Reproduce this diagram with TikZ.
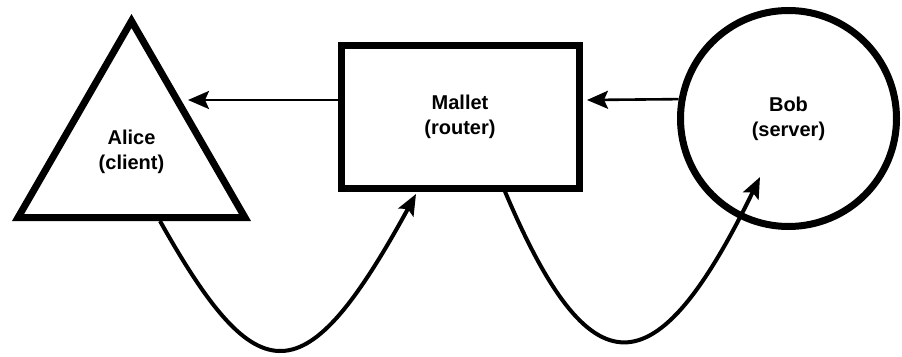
\documentclass[tikz,border=0pt]{standalone}
\usepackage{fontspec}
\setmainfont{Liberation Sans}
\usetikzlibrary{shapes.geometric,arrows.meta}
\begin{document}
\begin{tikzpicture}[x=1pt,y=-1pt,
  party/.style={draw=black, line width=7pt, align=center, inner sep=0pt,
    font=\fontsize{20}{25}\selectfont\bfseries},
  flow/.style={draw=black, line width=2.6pt,
    -{Stealth[length=21pt,width=18pt,inset=4pt]}},
  hop/.style={draw=black, line width=4pt,
    -{Stealth[length=21pt,width=17pt,inset=4pt]}}]
\useasboundingbox (0,0) rectangle (902,356);

% the three parties
\node[party, regular polygon, regular polygon sides=3, minimum size=262pt]
  (alice) at (131.5,152) {Alice\\(client)};
\node[party, rectangle, minimum width=238pt, minimum height=143pt]
  (mallet) at (460,116.5) {Mallet\\(router)};
\node[party, circle, minimum size=216pt]
  (bob) at (788.5,118.5) {Bob\\(server)};

% straight messages flowing right to left
\draw[flow] ([yshift=16.5pt]mallet.west) -- ([shift={(56.5pt,52pt)}]alice.center);
\draw[flow] (bob.170.5) -- ([shift={(4.5pt,16.5pt)}]mallet.east);

% looping messages underneath
\draw[hop] ([xshift=28.5pt]alice.south)
  .. controls +(98,175) and +(-111,203) ..
  ([shift={(78.5pt,-2.5pt)}]mallet.south west);
\draw[hop] ([xshift=45pt]mallet.south)
  .. controls +(85,201) and +(-105,216) ..
  ([shift={(-28.5pt,-58.5pt)}]bob.center);
\end{tikzpicture}
\end{document}
